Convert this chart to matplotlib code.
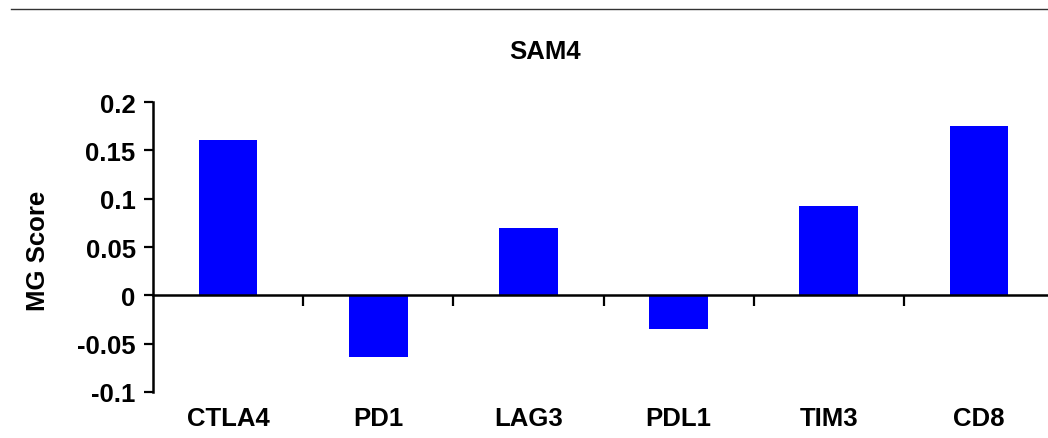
import matplotlib
matplotlib.use("Agg")
import matplotlib.pyplot as plt
from matplotlib.lines import Line2D
import numpy as np

plt.rcParams["font.family"] = ["Liberation Sans", "DejaVu Sans"]
plt.rcParams["font.weight"] = "bold"

genes = ["CTLA4", "PD1", "LAG3", "PDL1", "TIM3", "CD8"]
mg_score = [0.161, -0.064, 0.070, -0.035, 0.092, 0.175]
yticks = [-0.1, -0.05, 0, 0.05, 0.1, 0.15, 0.2]
ytick_labels = ["-0.1", "-0.05", "0", "0.05", "0.1", "0.15", "0.2"]

W, H = 1048, 439
fig = plt.figure(figsize=(W / 100, H / 100), dpi=100)
# axes run slightly past the right edge of the canvas
ax = fig.add_axes([153 / W, 46 / H, 901 / W, 290 / H])

x = np.arange(len(genes))
ax.bar(x, mg_score, width=0.39, color="#0000ff", zorder=2)

ax.set_xlim(-0.5, len(genes) - 0.5)
ax.set_ylim(-0.1, 0.2)
ax.set_yticks(yticks)
ax.set_yticklabels(ytick_labels)

# x axis sits on the zero line, ticks mark category boundaries
ax.spines["bottom"].set_position(("data", 0))
ax.spines["bottom"].set_linewidth(1.8)
ax.spines["left"].set_linewidth(1.8)
ax.spines["top"].set_visible(False)
ax.spines["right"].set_visible(False)
ax.set_xticks(x[:-1] + 0.5)
ax.set_xticklabels([])
ax.set_xticks(x, minor=True)
ax.set_xticklabels(genes, minor=True)
ax.tick_params(axis="x", which="major", direction="out", length=8, width=1.6)
ax.tick_params(axis="x", which="minor", length=0, pad=80, labelsize=18.5)
ax.tick_params(axis="y", direction="out", length=6.5, width=1.6, pad=6, labelsize=18.5)

ax.set_ylabel("MG Score", fontsize=18.5, fontweight="bold")
ax.yaxis.set_label_coords(-0.1143, 0.49)

fig.text(545 / W, 1 - 52 / H, "SAM4", ha="center", va="center",
         fontsize=18.5, fontweight="bold")

fig.add_artist(Line2D([11 / W, 1.0], [1 - 10 / H, 1 - 10 / H],
                      color="#333333", linewidth=1.0, transform=fig.transFigure))

fig.savefig("out.png", dpi=100)
